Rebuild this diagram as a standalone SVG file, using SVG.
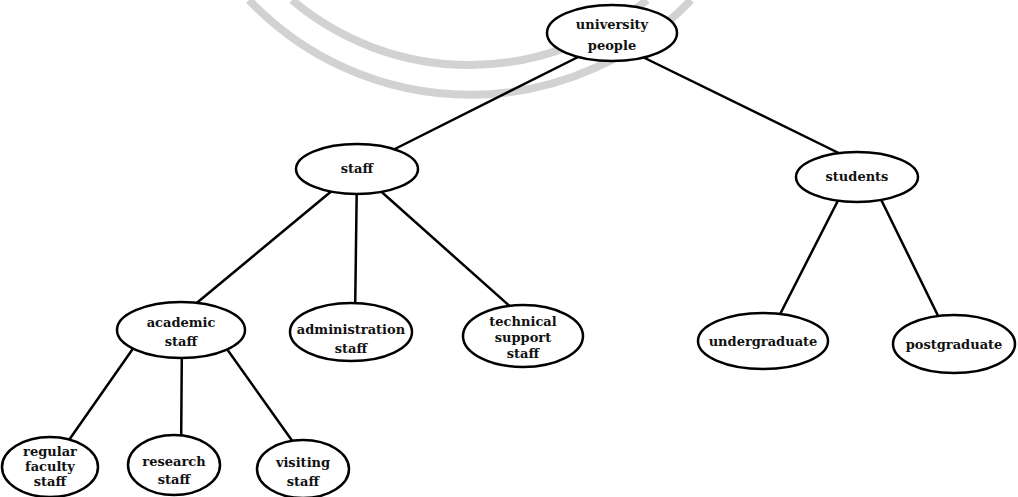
<svg xmlns="http://www.w3.org/2000/svg" width="1018" height="497" viewBox="0 0 1018 497">
  <style>
    .wm { fill: none; stroke: #d2d2d2; stroke-width: 8; }
    .node ellipse { fill: #ffffff; stroke: #000000; stroke-width: 2.5; }
    .node text { font-family: "DejaVu Serif", "Liberation Serif", serif; font-size: 13px; font-weight: bold; fill: #111111; text-anchor: middle; }
    .edges line { stroke: #000000; stroke-width: 2.5; stroke-linecap: round; }
  </style>
  <rect width="1018" height="497" fill="#ffffff"/>

  <!-- faint seal arcs behind the tree -->
  <g id="seal">
    <path class="wm" d="M 249,0 A 305,305 0 0 0 691,0"/>
    <path class="wm" d="M 292,0 A 275,275 0 0 0 647,0"/>
  </g>

  <!-- connectors: drawn from inside each parent to inside each child; the white node fills hide the ends -->
  <g id="edges" class="edges">
    <line x1="612" y1="40" x2="357" y2="168"/>
    <line x1="612" y1="42" x2="857" y2="162"/>
    <line x1="357" y1="170" x2="181" y2="316"/>
    <line x1="357" y1="170" x2="355" y2="320"/>
    <line x1="357" y1="170" x2="523" y2="318"/>
    <line x1="850" y1="177" x2="772" y2="330"/>
    <line x1="870" y1="177" x2="945" y2="330"/>
    <line x1="146" y1="330" x2="55" y2="460"/>
    <line x1="182" y1="330" x2="181" y2="460"/>
    <line x1="212" y1="328" x2="303" y2="456"/>
  </g>

  <g id="university-people" class="node">
    <ellipse cx="612" cy="33" rx="65" ry="28"/>
    <text x="612" y="29">university</text>
    <text x="612" y="50">people</text>
  </g>
  <g id="staff" class="node">
    <ellipse cx="357" cy="169" rx="61" ry="25"/>
    <text x="357" y="173">staff</text>
  </g>
  <g id="students" class="node">
    <ellipse cx="857" cy="177" rx="61" ry="25"/>
    <text x="857" y="181">students</text>
  </g>
  <g id="academic-staff" class="node">
    <ellipse cx="181" cy="330" rx="64" ry="28"/>
    <text x="181" y="327">academic</text>
    <text x="181" y="346">staff</text>
  </g>
  <g id="administration-staff" class="node">
    <ellipse cx="351" cy="332" rx="61" ry="29"/>
    <text x="351" y="334">administration</text>
    <text x="351" y="353">staff</text>
  </g>
  <g id="technical-support-staff" class="node">
    <ellipse cx="523" cy="336" rx="60" ry="31"/>
    <text x="523" y="326">technical</text>
    <text x="523" y="342">support</text>
    <text x="523" y="358">staff</text>
  </g>
  <g id="undergraduate" class="node">
    <ellipse cx="763" cy="341" rx="65" ry="28"/>
    <text x="763" y="346">undergraduate</text>
  </g>
  <g id="postgraduate" class="node">
    <ellipse cx="954" cy="344" rx="61" ry="29"/>
    <text x="954" y="349">postgraduate</text>
  </g>
  <g id="regular-faculty-staff" class="node">
    <ellipse cx="50" cy="467" rx="48" ry="30"/>
    <text x="50" y="456">regular</text>
    <text x="50" y="471">faculty</text>
    <text x="50" y="486">staff</text>
  </g>
  <g id="research-staff" class="node">
    <ellipse cx="174" cy="465" rx="46" ry="30"/>
    <text x="174" y="466">research</text>
    <text x="174" y="484">staff</text>
  </g>
  <g id="visiting-staff" class="node">
    <ellipse cx="303" cy="469" rx="46" ry="29"/>
    <text x="303" y="467">visiting</text>
    <text x="303" y="486">staff</text>
  </g>
</svg>
